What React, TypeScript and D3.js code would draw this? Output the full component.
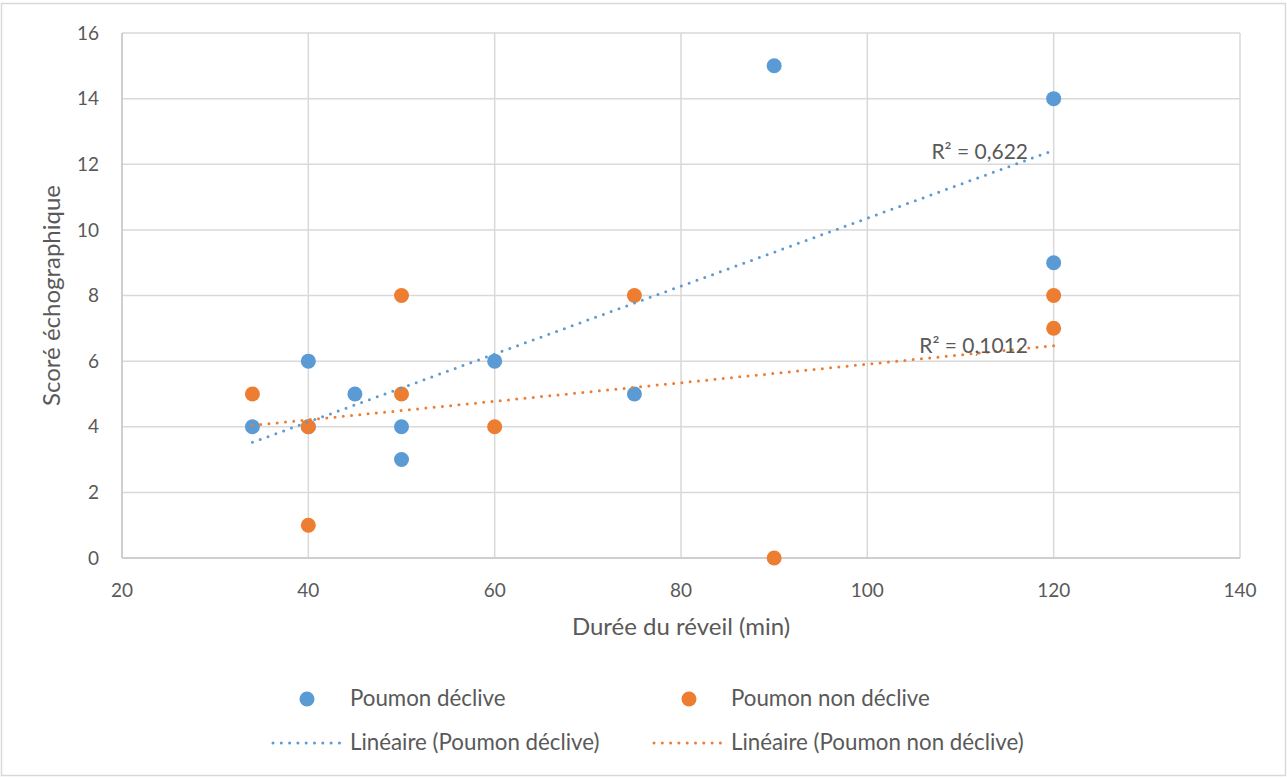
import React from "react";
import * as d3 from "d3";

const blueX = [34, 40, 40, 45, 50, 50, 60, 75, 90, 120, 120];
const blueY = [4, 6, 4, 5, 4, 3, 6, 5, 15, 14, 9];
const orangeX = [34, 40, 40, 50, 50, 60, 75, 90, 120, 120];
const orangeY = [5, 4, 1, 8, 5, 4, 8, 0, 8, 7];
const xTicks = [20, 40, 60, 80, 100, 120, 140];
const yTicks = [0, 2, 4, 6, 8, 10, 12, 14, 16];
const seriesNames = ["Poumon déclive", "Poumon non déclive"];
const trendNames = ["Linéaire (Poumon déclive)", "Linéaire (Poumon non déclive)"];
const xTitle = "Durée du réveil (min)";
const yTitle = "Scoré échographique";

const BLUE = "#5B9BD5";
const ORANGE = "#ED7D31";
const TEXT = "#595959";
const GRID = "#D9D9D9";
const FONT = "Lato, 'Open Sans', sans-serif";

function regress(xs: number[], ys: number[]) {
  const mx = d3.mean(xs)!;
  const my = d3.mean(ys)!;
  let sxy = 0, sxx = 0, syy = 0;
  xs.forEach((x, i) => {
    sxy += (x - mx) * (ys[i] - my);
    sxx += (x - mx) ** 2;
    syy += (ys[i] - my) ** 2;
  });
  const slope = sxy / sxx;
  const intercept = my - slope * mx;
  const r2 = (sxy * sxy) / (sxx * syy);
  return { slope, intercept, r2, x0: d3.min(xs)!, x1: d3.max(xs)! };
}

function fmtR2(v: number, digits: number) {
  return "R² = " + v.toFixed(digits).replace(".", ",");
}

export default function App() {
  const W = 1287, H = 778;
  const x = d3.scaleLinear().domain([20, 140]).range([122, 1240]);
  const y = d3.scaleLinear().domain([0, 16]).range([558, 33]);
  const series = [
    { xs: blueX, ys: blueY, color: BLUE, digits: 3, labelY: 159 },
    { xs: orangeX, ys: orangeY, color: ORANGE, digits: 4, labelY: 353 },
  ];
  const line = d3.line<[number, number]>().x((d) => x(d[0])).y((d) => y(d[1]));
  const dot = { strokeWidth: 3, strokeDasharray: "0 8.3", strokeLinecap: "round" as const };

  return (
    <svg width={W} height={H} style={{ position: "absolute", left: 0, top: 0, background: "#fff" }} fontFamily={FONT}>
      <rect x={1.5} y={3.5} width={1284} height={772} fill="#fff" stroke="#D9D9D9" strokeWidth={1.5} />
      {xTicks.map((t) => (
        <line key={"gx" + t} x1={x(t)} x2={x(t)} y1={y(16)} y2={y(0)} stroke={GRID} strokeWidth={1.5} />
      ))}
      {yTicks.map((t) => (
        <line key={"gy" + t} x1={x(20)} x2={x(140)} y1={y(t)} y2={y(t)} stroke={GRID} strokeWidth={1.5} />
      ))}
      <line x1={x(20)} x2={x(20)} y1={y(16)} y2={y(0)} stroke="#C8C8C8" strokeWidth={1.5} />
      <line x1={x(20)} x2={x(140)} y1={y(0)} y2={y(0)} stroke="#C8C8C8" strokeWidth={1.5} />
      {yTicks.map((t) => (
        <text key={"ty" + t} x={99} y={y(t)} dy="0.35em" textAnchor="end" fontSize={19} fill={TEXT}>{t}</text>
      ))}
      {xTicks.map((t) => (
        <text key={"tx" + t} x={x(t)} y={597} textAnchor="middle" fontSize={19} fill={TEXT}>{t}</text>
      ))}
      <text x={681} y={635} textAnchor="middle" fontSize={24} fill={TEXT}>{xTitle}</text>
      <text transform={`translate(60,295.5) rotate(-90)`} textAnchor="middle" fontSize={24} fill={TEXT}>{yTitle}</text>
      {series.map((s, si) => (
        <g key={"pts" + si}>
          {s.xs.map((vx, i) => (
            <circle key={i} cx={x(vx)} cy={y(s.ys[i])} r={7.5} fill={s.color} />
          ))}
        </g>
      ))}
      {series.map((s, si) => {
        const r = regress(s.xs, s.ys);
        const pts: [number, number][] = [
          [r.x0, r.intercept + r.slope * r.x0],
          [r.x1, r.intercept + r.slope * r.x1],
        ];
        return (
          <g key={"tr" + si}>
            <path d={line(pts)!} fill="none" stroke={s.color} {...dot} />
            <text x={1028} y={s.labelY} textAnchor="end" fontSize={21} fill={TEXT}>{fmtR2(r.r2, s.digits)}</text>
          </g>
        );
      })}
      {/* legend */}
      <circle cx={307} cy={699} r={7.5} fill={BLUE} />
      <text x={350} y={706} fontSize={22.3} fill={TEXT}>{seriesNames[0]}</text>
      <circle cx={689} cy={699} r={7.5} fill={ORANGE} />
      <text x={731} y={706} fontSize={22.3} fill={TEXT}>{seriesNames[1]}</text>
      <line x1={273} x2={342} y1={743} y2={743} stroke={BLUE} {...dot} />
      <text x={350} y={750} fontSize={22.3} fill={TEXT}>{trendNames[0]}</text>
      <line x1={654} x2={723} y1={743} y2={743} stroke={ORANGE} {...dot} />
      <text x={731} y={750} fontSize={22.3} fill={TEXT}>{trendNames[1]}</text>
    </svg>
  );
}
